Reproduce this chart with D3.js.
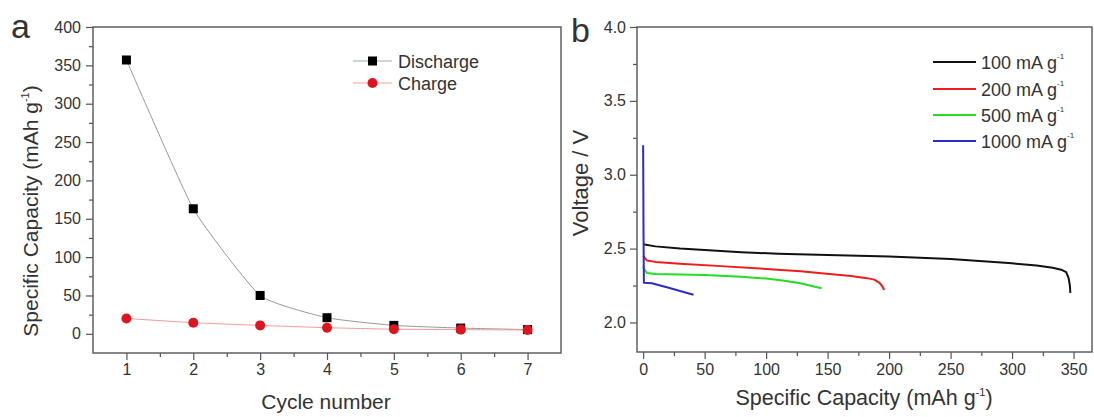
<!DOCTYPE html>
<html>
<head>
<meta charset="utf-8">
<script src="https://cdn.jsdelivr.net/npm/d3@7"></script>
<style>
  body { margin: 0; background: #fff; }
  svg { display: block; }
  text { font-family: "Liberation Sans", Arial, Helvetica, sans-serif; fill: #333; }
</style>
</head>
<body>
<svg id="fig" width="1094" height="417"></svg>
<script>
// ---- Panel a: cycling capacity ----
const cycles = [1, 2, 3, 4, 5, 6, 7];
const dischargeCap = [357, 163, 50, 21, 11, 7.5, 5.5];
const chargeCap = [20, 14.5, 11, 8, 6, 5.5, 5];
const cycleTicks = [1, 2, 3, 4, 5, 6, 7];
const capacityTicks = [0, 50, 100, 150, 200, 250, 300, 350, 400];

// ---- Panel b: discharge profiles at different current densities ----
const rateLabels = ["100 mA g", "200 mA g", "500 mA g", "1000 mA g"];
const rateColors = ["#111111", "#ee1c1c", "#22dd22", "#2b2bd0"];
const cap100 = [0, 10, 30, 50, 80, 110, 150, 200, 250, 300, 320, 333, 340, 344, 346, 347, 347.4];
const volt100 = [2.53, 2.515, 2.50, 2.49, 2.475, 2.465, 2.456, 2.446, 2.43, 2.40, 2.385, 2.37, 2.357, 2.34, 2.30, 2.25, 2.20];
const cap200 = [0, 1, 3, 10, 30, 60, 100, 128, 145, 169, 182, 188, 192, 194.5, 196];
const volt200 = [2.45, 2.44, 2.42, 2.41, 2.398, 2.383, 2.362, 2.347, 2.333, 2.315, 2.30, 2.29, 2.27, 2.245, 2.22];
const cap500 = [0, 1, 3, 10, 50, 80, 100, 115, 128, 138, 145];
const volt500 = [2.38, 2.36, 2.335, 2.328, 2.322, 2.31, 2.297, 2.282, 2.265, 2.245, 2.232];
const cap1000 = [0, 0.3, 0.6, 7, 20, 30, 41];
const volt1000 = [3.2, 2.6, 2.268, 2.265, 2.237, 2.213, 2.187];
const specificCapTicks = [0, 50, 100, 150, 200, 250, 300, 350];
const voltageTicks = [2.0, 2.5, 3.0, 3.5, 4.0];

const svg = d3.select("#fig");
const axisColor = "#555";

function styleAxis(g) {
  g.select(".domain").remove();
  g.selectAll("line").attr("stroke", axisColor).attr("stroke-width", 1.2);
  g.selectAll("text").attr("fill", "#444").style("font-size", "16px");
}

function frame(x0, x1, y0, y1) {
  svg.append("rect")
    .attr("x", x0).attr("y", y0)
    .attr("width", x1 - x0).attr("height", y1 - y0)
    .attr("fill", "none").attr("stroke", axisColor).attr("stroke-width", 1.4);
}

// "… (mAh g⁻¹)" style label: base text, small raised -1, closing bracket
function unitText(sel, base, closing) {
  sel.append("tspan").text(base);
  sel.append("tspan").text("-1").attr("dy", -9).style("font-size", "11px");
  if (closing) sel.append("tspan").text(closing).attr("dy", 9);
}

// ================= Panel a =================
const A = { left: 93, right: 561, top: 27, bottom: 353 };
const xA = d3.scaleLinear().domain([0.5, 7.5]).range([A.left, A.right]);
const yA = d3.scaleLinear().domain([-25, 400]).range([A.bottom, A.top]);

// minor ticks
svg.append("g").attr("transform", `translate(0,${A.bottom})`)
  .call(d3.axisBottom(xA).tickValues(d3.range(1.5, 7.5, 1)).tickSize(4).tickFormat(""))
  .call(styleAxis);
svg.append("g").attr("transform", `translate(${A.left},0)`)
  .call(d3.axisLeft(yA).tickValues(d3.range(25, 400, 50)).tickSize(4).tickFormat(""))
  .call(styleAxis);
// major ticks
svg.append("g").attr("transform", `translate(0,${A.bottom})`)
  .call(d3.axisBottom(xA).tickValues(cycleTicks).tickSize(7).tickPadding(4).tickFormat(d3.format("d")))
  .call(styleAxis);
svg.append("g").attr("transform", `translate(${A.left},0)`)
  .call(d3.axisLeft(yA).tickValues(capacityTicks).tickSize(7).tickPadding(5).tickFormat(d3.format("d")))
  .call(styleAxis);
frame(A.left, A.right, A.top, A.bottom);

const seriesLine = d3.line().x((d, i) => xA(cycles[i])).y(d => yA(d)).curve(d3.curveCardinal.tension(0.55));

svg.append("path").datum(dischargeCap).attr("d", seriesLine)
  .attr("fill", "none").attr("stroke", "#9a9a9a").attr("stroke-width", 1);
svg.append("path").datum(chargeCap).attr("d", seriesLine)
  .attr("fill", "none").attr("stroke", "#f39a9a").attr("stroke-width", 1);

svg.append("g").selectAll("rect").data(dischargeCap).join("rect")
  .attr("x", (d, i) => xA(cycles[i]) - 4.5).attr("y", d => yA(d) - 4.5)
  .attr("width", 9).attr("height", 9).attr("fill", "#000");
svg.append("g").selectAll("circle").data(chargeCap).join("circle")
  .attr("cx", (d, i) => xA(cycles[i])).attr("cy", d => yA(d))
  .attr("r", 5).attr("fill", "#e0141e");

// legend a
const legA = [
  { name: "Discharge", line: "#9ab0aa", shape: "square", color: "#000", y: 61 },
  { name: "Charge", line: "#f5a0a0", shape: "circle", color: "#e0141e", y: 83 }
];
legA.forEach(l => {
  svg.append("line").attr("x1", 353).attr("x2", 392).attr("y1", l.y).attr("y2", l.y)
    .attr("stroke", l.line).attr("stroke-width", 1);
  if (l.shape === "square") {
    svg.append("rect").attr("x", 372.5 - 4.5).attr("y", l.y - 4.5).attr("width", 9).attr("height", 9).attr("fill", l.color);
  } else {
    svg.append("circle").attr("cx", 372.5).attr("cy", l.y).attr("r", 5).attr("fill", l.color);
  }
  svg.append("text").attr("x", 398).attr("y", l.y + 6.5).style("font-size", "18px").text(l.name);
});

// axis labels a
svg.append("text").attr("x", 326).attr("y", 409).attr("text-anchor", "middle")
  .style("font-size", "21px").text("Cycle number");
const yLabA = svg.append("text").attr("text-anchor", "middle")
  .attr("transform", "translate(38,211) rotate(-90)").style("font-size", "21px");
unitText(yLabA, "Specific Capacity (mAh g", ")");

svg.append("text").attr("x", 11).attr("y", 38).style("font-size", "34px").attr("fill", "#111").text("a");

// ================= Panel b =================
const B = { left: 637, right: 1092, top: 27, bottom: 352 };
const xB = d3.scaleLinear().domain([-5, 365]).range([B.left, B.right]);
const yB = d3.scaleLinear().domain([1.8, 4.0]).range([B.bottom, B.top]);

svg.append("g").attr("transform", `translate(0,${B.bottom})`)
  .call(d3.axisBottom(xB).tickValues(d3.range(25, 365, 50)).tickSize(4).tickFormat(""))
  .call(styleAxis);
svg.append("g").attr("transform", `translate(${B.left},0)`)
  .call(d3.axisLeft(yB).tickValues([2.25, 2.75, 3.25, 3.75]).tickSize(4).tickFormat(""))
  .call(styleAxis);
svg.append("g").attr("transform", `translate(0,${B.bottom})`)
  .call(d3.axisBottom(xB).tickValues(specificCapTicks).tickSize(7).tickPadding(5).tickFormat(d3.format("d")))
  .call(styleAxis);
svg.append("g").attr("transform", `translate(${B.left},0)`)
  .call(d3.axisLeft(yB).tickValues(voltageTicks).tickSize(7).tickPadding(4).tickFormat(d3.format(".1f")))
  .call(styleAxis);
frame(B.left, B.right, B.top, B.bottom);

const profiles = [
  { cap: cap100, volt: volt100 },
  { cap: cap200, volt: volt200 },
  { cap: cap500, volt: volt500 },
  { cap: cap1000, volt: volt1000 }
];
const profileLine = d3.line().x(d => xB(d[0])).y(d => yB(d[1]));
// slowest rate first, so the 1000 mA g-1 trace sits on top
profiles.forEach((p, i) => {
  const pts = p.cap.map((c, j) => [c, p.volt[j]]);
  svg.append("path").datum(pts).attr("d", profileLine)
    .attr("fill", "none").attr("stroke", rateColors[i]).attr("stroke-width", 2)
    .attr("stroke-linejoin", "round");
});

// legend b
const legYs = [62, 89, 115, 141];
rateLabels.forEach((lab, i) => {
  svg.append("line").attr("x1", 933).attr("x2", 976).attr("y1", legYs[i]).attr("y2", legYs[i])
    .attr("stroke", rateColors[i]).attr("stroke-width", 2);
  const t = svg.append("text").attr("x", 981).attr("y", legYs[i] + 6.5).style("font-size", "18px");
  t.append("tspan").text(lab);
  t.append("tspan").text("-1").attr("dy", -10).style("font-size", "8px");
});

// axis labels b
const xLabB = svg.append("text").attr("x", 864).attr("y", 405).attr("text-anchor", "middle").style("font-size", "21.5px");
unitText(xLabB, "Specific Capacity (mAh g", ")");
svg.append("text").attr("text-anchor", "middle")
  .attr("transform", "translate(588,183) rotate(-90)").style("font-size", "22px").text("Voltage / V");

svg.append("text").attr("x", 571).attr("y", 42).style("font-size", "34px").attr("fill", "#111").text("b");
</script>
</body>
</html>
